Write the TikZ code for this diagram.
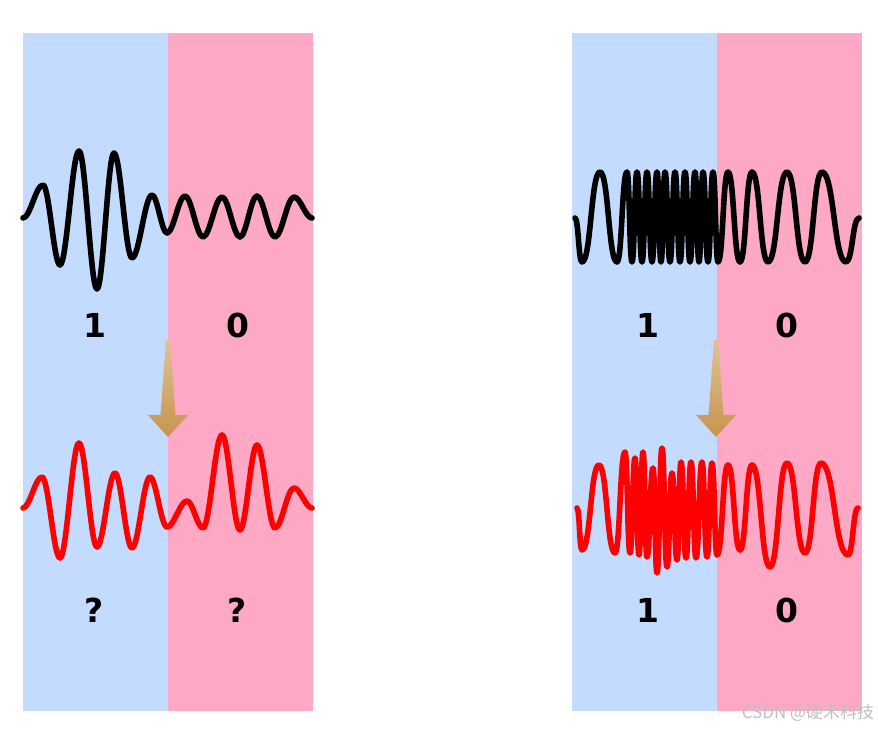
\documentclass[tikz,border=0pt]{standalone}
\usepackage{fontspec}
\setmainfont{DejaVu Sans}
\newfontfamily\cjk{Noto Sans CJK SC}
\usepackage{tikz}
\definecolor{bandblue}{RGB}{195,219,255}
\definecolor{bandpink}{RGB}{253,169,198}
\definecolor{arrowtop}{RGB}{224,194,146}
\definecolor{arrowbot}{RGB}{199,148,78}

\begin{document}
\begin{tikzpicture}[x=1pt,y=1pt,
  wave/.style={line width=5.6pt,line join=round,line cap=round},
  bit/.style={font=\bfseries\fontsize{33}{33}\selectfont}]
\path[use as bounding box,fill=white] (0,0) rectangle (878,729);
% bands
\foreach \x in {23,572} {
  \fill[bandblue] (\x,18) rectangle (\x+145,696);
  \fill[bandpink] (\x+145,18) rectangle (\x+290,696);
}
% arrows on the borders
\foreach \x in {168,716}
  \shade[top color=arrowtop,bottom color=arrowbot]
    (\x-2,389)--(\x+2,389)--(\x+7.5,314)--(\x+20,314)--(\x,292)
    --(\x-20,314)--(\x-7.5,314)--cycle;
% sent, left
\draw[wave,black] (23,511) foreach \x/\y
  [remember=\x as \px (initially 23),remember=\y as \py (initially 511)] in
  {43/544,60/464,79/578,97/440,114/576,132/471,152/534,167/496,185/533,
   203/492,222/532,240/492,257/533,275/492,294/532,312/511}
  { .. controls ({\px+0.36*(\x-\px)},\py) and ({\x-0.36*(\x-\px)},\y) .. (\x,\y) };
% received, left
\draw[wave,red] (23,221) foreach \x/\y
  [remember=\x as \px (initially 23),remember=\y as \py (initially 221)] in
  {42/252,60/171,79/286,97/182,115/256,132/181,150/252,167/202,187/228,
   203/201,222/294,240/199,257/284,275/201,294/241,312/221}
  { .. controls ({\px+0.36*(\x-\px)},\py) and ({\x-0.36*(\x-\px)},\y) .. (\x,\y) };
% sent, right
\draw[wave,black] (575,511) foreach \x/\y
  [remember=\x as \px (initially 575),remember=\y as \py (initially 511)] in
  {582/467,600/557,617/467,627/557,632/467,637/557,642/467,647/557,652/467,
   657/557,661/467,665/557,670/467,675/557,680/467,685/557,690/467,695/557,
   699/467,703/557,708/467,713/557,718/467,728/557,740/467,752/557,768/467,
   787/557,805/467,822/557,846/467,859/511}
  { .. controls ({\px+0.5*(\x-\px)},\py) and ({\x-0.5*(\x-\px)},\y) .. (\x,\y) };
% received, right
\draw[wave,red] (577,221) foreach \x/\y
  [remember=\x as \px (initially 577),remember=\y as \py (initially 221)] in
  {582/179,599/264,615/176,625/277,630/176,635/271,639/174,643/277,647/172,
   653/261,657/156,662/281,667/162,672/256,677/169,681/267,686/171,691/267,
   696/171,702/267,707/172,712/266,717/174,728/264,740/179,752/264,770/162,
   787/266,805/176,821/266,848/174,858/221}
  { .. controls ({\px+0.5*(\x-\px)},\py) and ({\x-0.5*(\x-\px)},\y) .. (\x,\y) };
% bits
\node[bit] (sentone) at (95,404) {1};
\node[bit] (sentzero) at (238,404) {0};
\node[bit] (gotone) at (94,119) {?};
\node[bit] (gotzero) at (237,119) {?};
\node[bit] (chirpone) at (648,404) {1};
\node[bit] (chirpzero) at (787,404) {0};
\node[bit] (backone) at (648,119) {1};
\node[bit] (backzero) at (787,119) {0};
\node[font=\cjk\fontsize{17}{17}\selectfont,text=black!25] (mark) at (808,16)
  {CSDN @硬禾科技};
\end{tikzpicture}
\end{document}
